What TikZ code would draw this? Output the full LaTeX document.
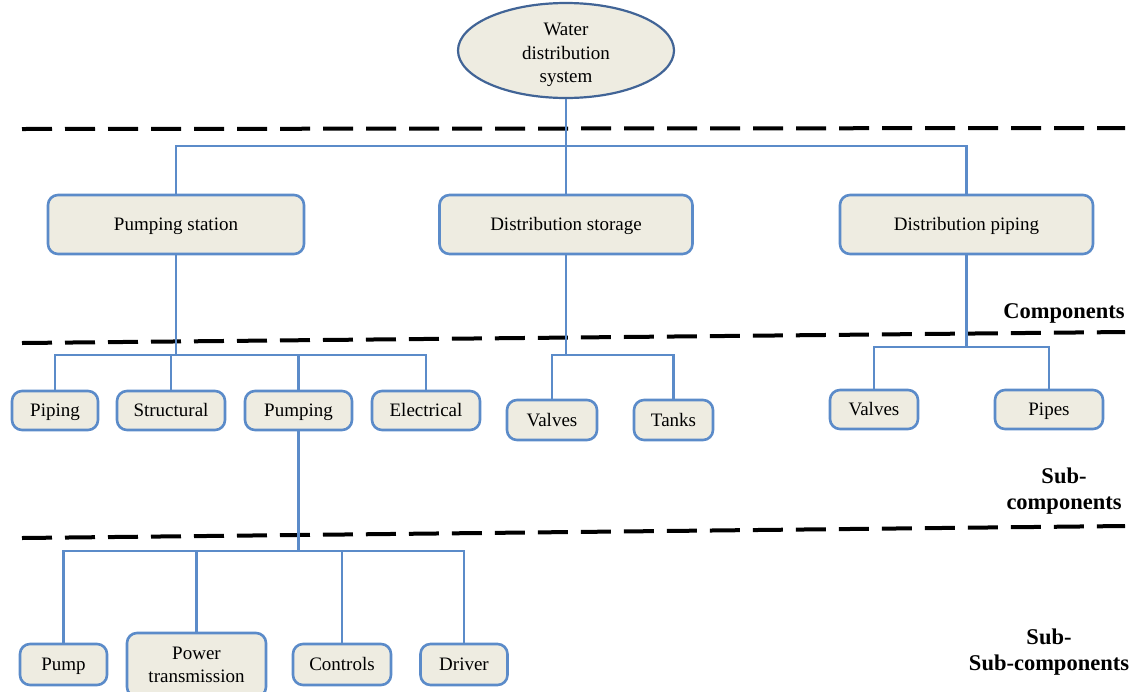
\documentclass[tikz,border=0pt]{standalone}
\usepackage{fontspec}
\setmainfont{Liberation Serif}
\usetikzlibrary{shapes.geometric}
\definecolor{boxfill}{RGB}{238,236,225}
\definecolor{boxline}{RGB}{91,139,201}
\definecolor{ovalline}{RGB}{65,100,150}
\tikzset{
  base/.style={font=\fontsize{19}{23.5}\selectfont, inner sep=0pt},
  unit/.style={base, draw=boxline, fill=boxfill, line width=2.6pt, rounded corners=10pt},
  oneline/.style={text height=16.5pt, text depth=4pt},
  compbox/.style={unit, oneline, minimum width=#1, minimum height=59pt},
  subbox/.style={unit, oneline, minimum width=#1, minimum height=39pt},
  oval/.style={ellipse, draw=ovalline, fill=boxfill, line width=2.2pt, inner sep=0pt,
               minimum width=216pt, minimum height=95pt},
  link/.style={draw=boxline, line width=2.4pt},
  divider/.style={draw=black, line width=4pt, dash pattern=on 30pt off 13pt},
  levellabel/.style={font=\fontsize{22.5}{26}\selectfont\bfseries, align=center, inner sep=0pt}
}
\begin{document}
\begin{tikzpicture}[x=1pt, y=-1pt]
\useasboundingbox (0,0) rectangle (1135,691);

% level dividers
\coordinate (d1a) at (22,129);  \coordinate (d1b) at (1125,128);
\coordinate (d2a) at (22,343);  \coordinate (d2b) at (1125,332);
\coordinate (d3a) at (22,538);  \coordinate (d3b) at (1125,526);
\draw[divider] (d1a) -- (d1b);
\draw[divider] (d2a) -- (d2b);
\draw[divider] (d3a) -- (d3b);

% level labels
\node[levellabel] (lc)  at (1064,313) {Components};
\node[levellabel] (lsc) at (1064,491) {Sub-\\components};
\node[levellabel] (lss) at (1049,652) {Sub-\\Sub-components};

% system (oval with its caption set slightly below centre)
\node[oval] (top) at (566,50.5) {};
\node[base, align=center] (toptext) at (566,55) {Water\\distribution\\system};

% components
\node[compbox=256pt] (ps) at (176,224.5) {Pumping station};
\node[compbox=253pt] (ds) at (566,224.5) {Distribution storage};
\node[compbox=253pt] (dp) at (966.5,224.5) {Distribution piping};

% sub-components
\node[subbox=86pt]  (piping)     at (55,410.5)    {Piping};
\node[subbox=108pt] (structural) at (171,410.5)   {Structural};
\node[subbox=107pt] (pumping)    at (298.5,410.5) {Pumping};
\node[subbox=108pt] (electrical) at (426,410.5)   {Electrical};
\node[subbox=90pt, minimum height=40pt] (valvesA) at (552,420)   {Valves};
\node[subbox=79pt, minimum height=40pt] (tanks)   at (673.5,420) {Tanks};
\node[subbox=88pt]  (valvesB)    at (874,409.5)   {Valves};
\node[subbox=108pt] (pipes)      at (1049,409.5)  {Pipes};

% sub-sub-components
\node[subbox=87pt, minimum height=41pt]  (pump)     at (63.5,664.5) {Pump};
\node[unit, align=center, minimum width=139pt, minimum height=64pt] (power) at (196.5,665) {Power\\transmission};
\node[subbox=98pt, minimum height=41pt]  (controls) at (342,664.5)  {Controls};
\node[subbox=87pt, minimum height=41pt]  (driver)   at (464,664.5)  {Driver};

% junctions
\coordinate (j1) at (566,146);
\coordinate (j2) at (176,355);
\coordinate (j3) at (566,355);
\coordinate (j4) at (966.5,347);
\coordinate (j5) at (298.5,551);

% connectors
\draw[link] (top.south) -- (ds.north);
\draw[link] (ps.north) |- (j1) -| (dp.north);

\draw[link] (ps.south) -- (j2);
\draw[link] (piping.north) |- (j2) -| (electrical.north);
\draw[link] (structural.north) -- (structural.north |- j2);
\draw[link] (pumping.north) -- (pumping.north |- j2);

\draw[link] (ds.south) -- (j3);
\draw[link] (valvesA.north) |- (j3) -| (tanks.north);

\draw[link] (dp.south) -- (j4);
\draw[link] (valvesB.north) |- (j4) -| (pipes.north);

\draw[link] (pumping.south) -- (j5);
\draw[link] (pump.north) |- (j5) -| (driver.north);
\draw[link] (power.north) -- (power.north |- j5);
\draw[link] (controls.north) -- (controls.north |- j5);
\end{tikzpicture}
\end{document}
